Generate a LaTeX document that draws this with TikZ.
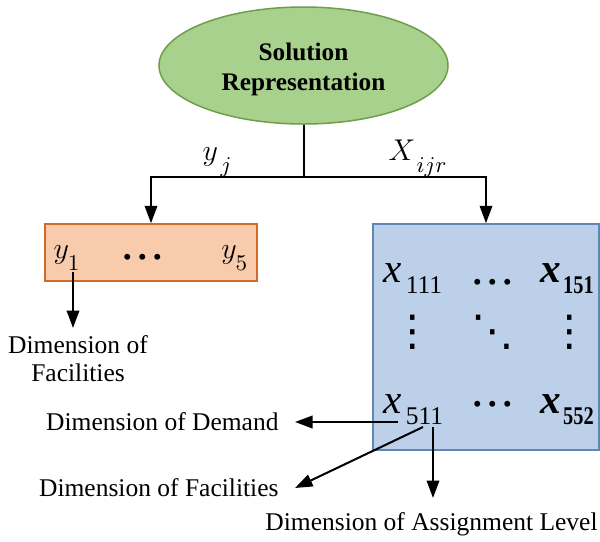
\documentclass[tikz,border=0pt]{standalone}
\usepackage{fontspec}
\usepackage{graphicx}
\setmainfont{Liberation Serif}
\newfontfamily\symfont{DejaVu Sans}
\usetikzlibrary{shapes.geometric,arrows.meta,positioning}
\definecolor{solfill}{HTML}{A9D18E}
\definecolor{soldraw}{HTML}{6E9E4A}
\definecolor{yfill}{HTML}{F8CBAD}
\definecolor{ydraw}{HTML}{D06A28}
\definecolor{xfill}{HTML}{BDD0EA}
\definecolor{xdraw}{HTML}{5F86B5}
% lowered subscript as in the figure
\newcommand{\lsub}[1]{_{\lower3.2pt\hbox{$\scriptstyle #1$}}}
% matrix entry: big italic x with lowered subscript
\newcommand{\xent}[1]{{\fontsize{16.5}{16.5}\selectfont\itshape x}\hspace{1.6pt}\raisebox{-4.4pt}{#1}}
\newcommand{\xentb}[1]{{\fontsize{16.5}{16.5}\selectfont\bfseries\itshape x}\hspace{0.8pt}\raisebox{-4.4pt}{\scalebox{0.8}[1]{\bfseries #1}}}
% widely spaced dots
\newcommand{\hdotsx}{\mbox{.\kern1pt.\kern1pt.}}

\begin{document}
\begin{tikzpicture}[x=0.4pt, y=-0.4pt,
        txt/.style={font=\fontsize{10.2}{11.2}\selectfont, inner sep=0pt},
        mathtxt/.style={font=\fontsize{12.8}{13}\selectfont, inner sep=0pt},
        dotstxt/.style={font=\fontsize{20}{20}\selectfont, inner sep=0pt, anchor=base},
        symtxt/.style={font=\fontsize{17}{17}\symfont, inner sep=0pt},
        solution/.style={ellipse, draw=soldraw, line width=0.6pt, fill=solfill, minimum width=115.6pt, minimum height=46.8pt, font=\fontsize{10.1}{12.2}\selectfont\bfseries, inner sep=0pt},
        ybox/.style={rectangle, draw=ydraw, line width=0.6pt, fill=yfill, minimum width=84.8pt, minimum height=22.8pt},
        xbox/.style={rectangle, draw=xdraw, line width=0.6pt, fill=xfill, minimum width=90.4pt, minimum height=90.4pt},
        dimlabel/.style={txt, align=center},
        link/.style={line width=0.8pt},
        arrow/.style={link, -{Triangle[length=7pt,width=5pt]}},
      ]
      \useasboundingbox (0,0) rectangle (600,541);
      \node [solution] (sol) at (303.5,65.5) {\raisebox{-1.6pt}[\height][\depth]{\begin{tabular}{@{}c@{}}Solution\\Representation\end{tabular}}};
      \coordinate (split) at (303.5,177);
      \node [ybox] (yvec) at (151,252.5) {};
      \node [xbox] (xmat) at (486,337) {};
      \draw [link] (sol) -- (split);
      \draw [arrow] (split) -| (yvec.north);
      \draw [arrow] (split) -| (xmat.north);
      \node [mathtxt, anchor=base west] (ylab) at (202,160) {$y\lsub{\,j}$};
      \node [mathtxt, anchor=base west] (xlab) at (388,160) {$X\lsub{\,ijr}$};
      % facility vector
      \node [mathtxt, anchor=base west] (y1) at (53,258) {$y\lsub{1}$};
      \node [dotstxt] (ydots) at (143,259) {\hdotsx};
      \node [mathtxt, anchor=base east] (y5) at (249,258) {$y\lsub{5}$};
      \coordinate (y1foot) at (73,272);
      \coordinate (y1tip) at (73,328);
      \node [dimlabel] (yfac) at (78,359) {Dimension of\\Facilities};
      \draw [arrow] (y1foot) -- (y1tip);
      % assignment matrix
      \node [txt, anchor=base west] (x111) at (383,282) {\xent{111}};
      \node [dotstxt] (xdots1) at (493,284) {\hdotsx};
      \node [txt, anchor=base west] (x151) at (540,282) {\xentb{151}};
      \node [symtxt] (vdots1) at (413,332) {⋮};
      \node [symtxt] (ddots) at (493,332) {⋱};
      \node [symtxt] (vdots3) at (570,332) {⋮};
      \node [txt, anchor=base west] (x511) at (383,413) {\xent{511}};
      \node [dotstxt] (xdots3) at (493,406) {\hdotsx};
      \node [txt, anchor=base west] (x552) at (540,413) {\xentb{552}};
      \coordinate (demfoot) at (398,422);
      \coordinate (demtip) at (295,422);
      \coordinate (facfoot) at (423,427);
      \coordinate (factip) at (295,488);
      \coordinate (asgfoot) at (433,427);
      \coordinate (asgtip) at (433,498);
      \node [dimlabel, anchor=east] (xdem) at (279,422) {Dimension of Demand};
      \node [dimlabel, anchor=east] (xfac) at (279,488) {Dimension of Facilities};
      \node [dimlabel] (xasg) at (431.5,524) {Dimension of Assignment Level};
      \draw [arrow] (demfoot) -- (demtip);
      \draw [arrow] (facfoot) -- (factip);
      \draw [arrow] (asgfoot) -- (asgtip);
    \end{tikzpicture}
\end{document}
